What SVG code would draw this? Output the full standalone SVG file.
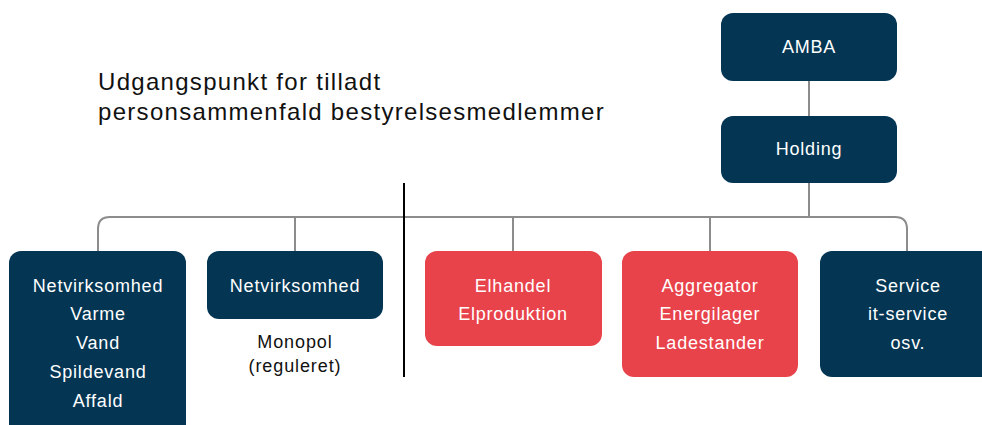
<svg xmlns="http://www.w3.org/2000/svg" width="982" height="425" viewBox="0 0 982 425">
<style>
.dark{fill:#043654}
.red{fill:#E8434B}
.t{font-family:"Liberation Sans",Arial,sans-serif;font-size:18px;fill:#fff;text-anchor:middle;letter-spacing:0.8px}
.k{font-family:"Liberation Sans",Arial,sans-serif;font-size:18px;fill:#111;text-anchor:middle;letter-spacing:0.9px}
.title{font-family:"Liberation Sans",Arial,sans-serif;font-size:24px;fill:#111;letter-spacing:1.3px}
.c{fill:none;stroke:#8c8c8c;stroke-width:2}
</style>
<rect width="982" height="425" fill="#fff"/>
<text class="title" x="98" y="90">Udgangspunkt for tilladt</text>
<text class="title" x="98" y="120">personsammenfald bestyrelsesmedlemmer</text>
<g id="connectors">
<path class="c" d="M809 81V116"/>
<path class="c" d="M809 183V217"/>
<path class="c" d="M98 251V229Q98 217 110 217H895Q907 217 907 229V251"/>
<path class="c" d="M295 217V251"/>
<path class="c" d="M513 217V251"/>
<path class="c" d="M710 217V251"/>
<path d="M404 183V377" stroke="#000" stroke-width="2"/>
</g>
<g id="amba"><rect class="dark" x="721" y="13" width="176" height="68" rx="12"/><text class="t" x="809" y="53">AMBA</text></g>
<g id="holding"><rect class="dark" x="721" y="116" width="176" height="67" rx="12"/><text class="t" x="809" y="155">Holding</text></g>
<g id="netvirk1"><rect class="dark" x="9" y="251" width="177" height="190" rx="12"/>
<text class="t" x="98" y="292">Netvirksomhed</text>
<text class="t" x="98" y="320">Varme</text>
<text class="t" x="98" y="349">Vand</text>
<text class="t" x="98" y="378">Spildevand</text>
<text class="t" x="98" y="407">Affald</text></g>
<g id="netvirk2"><rect class="dark" x="207" y="251" width="176" height="68" rx="12"/><text class="t" x="295" y="292">Netvirksomhed</text>
<text class="k" x="295" y="348">Monopol</text><text class="k" x="295" y="372">(reguleret)</text></g>
<g id="elhandel"><rect class="red" x="425" y="251" width="177" height="95" rx="12"/><text class="t" x="513" y="292">Elhandel</text><text class="t" x="513" y="320">Elproduktion</text></g>
<g id="aggregator"><rect class="red" x="622" y="251" width="176" height="126" rx="12"/><text class="t" x="710" y="292">Aggregator</text><text class="t" x="710" y="320">Energilager</text><text class="t" x="710" y="349">Ladestander</text></g>
<g id="service"><rect class="dark" x="820" y="251" width="176" height="126" rx="12"/><text class="t" x="908" y="292">Service</text><text class="t" x="908" y="320">it-service</text><text class="t" x="908" y="349">osv.</text></g>
</svg>
